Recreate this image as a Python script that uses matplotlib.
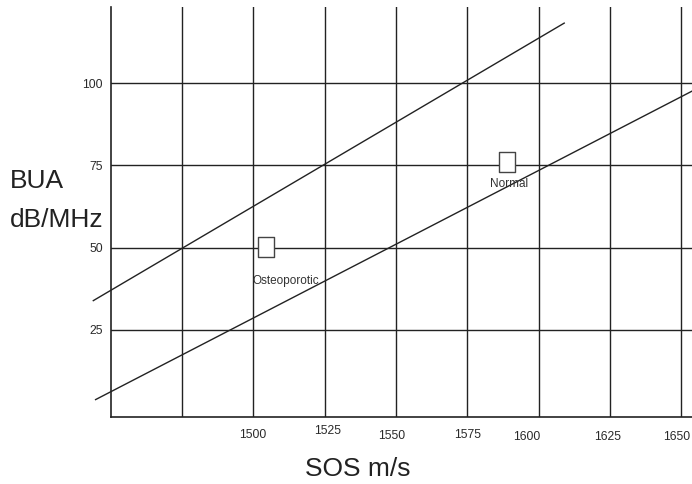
import matplotlib
matplotlib.use('Agg')
import matplotlib.pyplot as plt
from matplotlib.path import Path
import matplotlib.transforms as mtransforms

# ---- data ----
sos_ticks = [1475, 1500, 1525, 1550, 1575, 1600, 1625, 1650]
sos_tick_labels = ['', '1500', '1525', '1550', '1575', '1600', '1625', '1650']
bua_ticks = [25, 50, 75, 100]
bua_tick_labels = ['25', '50', '75', '100']

upper_sos = [1443.9, 1609.0]
upper_bua = [33.9, 118.3]
lower_sos = [1444.7, 1654.0]
lower_bua = [3.8, 97.7]

point_names = ['Osteoporotic', 'Normal']
point_sos = [1504.5, 1589.0]
point_bua = [50.1, 76.0]

# ---- styles ----
INK = '#222222'
base_font = ['Liberation Sans', 'DejaVu Sans']
plt.rcParams['font.family'] = base_font

fig = plt.figure(figsize=(6.92, 4.84), dpi=100)
W, H = 692, 484
ax_left, ax_right, ax_top, ax_bottom = 110.7, 692, 7, 416.7
ax = fig.add_axes([ax_left / W, 1 - ax_bottom / H, (ax_right - ax_left) / W, (ax_bottom - ax_top) / H])

ax.set_xlim(1450, 1653.8)
ax.set_ylim(-1.4, 123.2)

for s in ['top', 'right']:
    ax.spines[s].set_visible(False)
for s in ['left', 'bottom']:
    ax.spines[s].set_color(INK)
    ax.spines[s].set_linewidth(1.2)

ax.set_xticks(sos_ticks)
ax.set_xticklabels(sos_tick_labels)
ax.set_yticks(bua_ticks)
ax.set_yticklabels(bua_tick_labels)
ax.tick_params(axis='both', length=0, labelsize=8.7, colors='#2a2a2a')
ax.tick_params(axis='x', pad=9)
ax.tick_params(axis='y', pad=5.5)
ax.grid(True, color=INK, linewidth=1.0)
ax.set_axisbelow(True)

# scanned-look per-label offsets (px: dx, dy down)
x_offsets = [(0, 0), (-0.3, 0), (3.4, -4), (-3.9, 1), (0.8, 0), (-11.5, 1.7), (-1.8, 1.7), (-4.1, 1.7)]
for lab, (dx, dy) in zip(ax.get_xticklabels(), x_offsets):
    off = mtransforms.ScaledTranslation(dx / 100, -dy / 100, fig.dpi_scale_trans)
    lab.set_transform(lab.get_transform() + off)

# lines
ax.plot(upper_sos, upper_bua, color=INK, linewidth=1.0, clip_on=False, zorder=3)
ax.plot(lower_sos, lower_bua, color=INK, linewidth=1.0, clip_on=False, zorder=3)

# markers
rect = Path([(-0.41, -0.5), (0.41, -0.5), (0.41, 0.5), (-0.41, 0.5), (-0.41, -0.5)],
            [Path.MOVETO, Path.LINETO, Path.LINETO, Path.LINETO, Path.CLOSEPOLY])
ax.plot(point_sos, point_bua, linestyle='none', marker=rect, markersize=13.7,
        markerfacecolor='white', markeredgecolor='#444444', markeredgewidth=1.0, zorder=4)

label_offsets = [(14.3, -24.0), (1.3, -15.5)]
for name, xv, yv, off in zip(point_names, point_sos, point_bua, label_offsets):
    ax.annotate(name, (xv, yv), xytext=off, textcoords='offset points',
                ha='center', va='center', fontsize=8.5, color='#333333', zorder=5)

# axis labels
ax.set_xlabel('SOS m/s', fontsize=19, color='#222222', va='baseline')
ax.xaxis.set_label_coords((358 - ax_left) / (ax_right - ax_left), (ax_bottom - 476) / (ax_bottom - ax_top))

lx = (10 - ax_left) / (ax_right - ax_left)
ax.set_ylabel('BUA', fontsize=19, rotation=0, ha='left', va='baseline', color='#222222')
ax.yaxis.set_label_coords(lx, (ax_bottom - 187.7) / (ax_bottom - ax_top))
ax.text(lx, (ax_bottom - 227) / (ax_bottom - ax_top), 'dB/MHz', transform=ax.transAxes,
        fontsize=19, ha='left', va='baseline', color='#222222')

fig.savefig('out.png', dpi=100)
